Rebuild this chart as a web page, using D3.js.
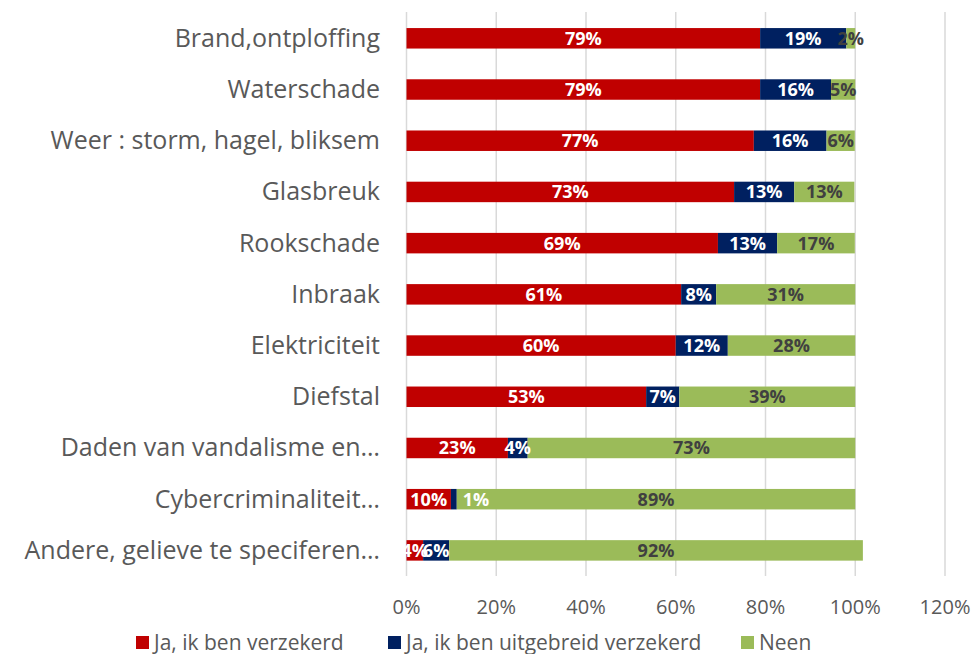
<!DOCTYPE html>
<html>
<head>
<meta charset="utf-8">
<script src="https://cdn.jsdelivr.net/npm/d3@7"></script>
<style>
  body { margin: 0; background: #fff; }
  svg { display: block; font-family: "Open Sans", Carlito, Calibri, sans-serif; }
</style>
</head>
<body>
<svg id="chart"></svg>
<script>
// Values (percent), one array per series.
const categories = [
  "Brand,ontploffing",
  "Waterschade",
  "Weer : storm, hagel, bliksem",
  "Glasbreuk",
  "Rookschade",
  "Inbraak",
  "Elektriciteit",
  "Diefstal",
  "Daden van vandalisme en…",
  "Cybercriminaliteit…",
  "Andere, gelieve te speciferen…"
];
const verzekerd   = [78.8, 78.8, 77.4, 73.0, 69.4, 61.2, 60.0, 53.4, 22.6, 9.9, 3.7];
const uitgebreid  = [19.2, 15.8, 16.2, 13.4, 13.2, 7.8, 11.6, 7.4, 4.4, 1.3, 5.8];
const neen        = [2.0, 5.4, 6.3, 13.4, 17.3, 31.0, 28.4, 39.2, 73.0, 88.8, 92.2];
const seriesNames = ["Ja, ik ben verzekerd", "Ja, ik ben uitgebreid verzekerd", "Neen"];
const seriesColors = ["#C00000", "#002060", "#9BBB59"];
const tickValues = [0, 20, 40, 60, 80, 100, 120];

const W = 974, H = 654;
const svg = d3.select('#chart').attr('width', W).attr('height', H);

const x = d3.scaleLinear().domain([0, 120]).range([406.5, 945]);
const y = d3.scaleBand().domain(categories).range([12.7, 576])
  .paddingInner(0.6).paddingOuter(0.3);

// gridlines
svg.append('g')
  .selectAll('line')
  .data(tickValues)
  .join('line')
  .attr('x1', d => x(d)).attr('x2', d => x(d))
  .attr('y1', 12).attr('y2', 576)
  .attr('stroke', '#d9d9d9')
  .attr('stroke-width', 1.5);

// tick labels
svg.append('g')
  .selectAll('text')
  .data(tickValues)
  .join('text')
  .attr('x', d => x(d))
  .attr('y', 614)
  .attr('text-anchor', 'middle')
  .attr('font-size', 20)
  .attr('fill', '#595959')
  .text(d => d + '%');

// stack the three series
const rows = categories.map((c, i) => ({cat: c, v: [verzekerd[i], uitgebreid[i], neen[i]]}));
const stack = d3.stack().keys([0, 1, 2]).value((d, k) => d.v[k]);
const layers = stack(rows);

const g = svg.append('g');
layers.forEach((layer, k) => {
  g.append('g')
    .selectAll('rect')
    .data(layer)
    .join('rect')
    .attr('x', d => x(d[0]))
    .attr('y', d => y(d.data.cat))
    .attr('width', d => x(d[1]) - x(d[0]))
    .attr('height', y.bandwidth())
    .attr('fill', seriesColors[k]);
});

// data labels (a segment too thin for its label gets it just to the right)
layers.forEach((layer, k) => {
  g.append('g')
    .selectAll('text')
    .data(layer)
    .join('text')
    .each(function(d) {
      const w = x(d[1]) - x(d[0]);
      const narrow = w < 8;
      d3.select(this)
        .attr('x', narrow ? x(d[1]) + 6 : (x(d[0]) + x(d[1])) / 2)
        .attr('text-anchor', narrow ? 'start' : 'middle');
    })
    .attr('y', d => y(d.data.cat) + y.bandwidth() / 2 + 6.5)
    .attr('font-size', 18)
    .attr('font-weight', 'bold')
    .attr('fill', k === 2 ? '#404040' : '#ffffff')
    .text(d => Math.round(d[1] - d[0]) + '%');
});

// category labels
svg.append('g')
  .selectAll('text')
  .data(categories)
  .join('text')
  .attr('x', 380)
  .attr('y', d => y(d) + y.bandwidth() / 2 + 8.5)
  .attr('text-anchor', 'end')
  .attr('font-size', 25)
  .attr('fill', '#595959')
  .text(d => d);

// legend
const legendX = [136, 388, 741];
const legend = svg.append('g')
  .selectAll('g')
  .data(seriesNames)
  .join('g')
  .attr('transform', (d, i) => `translate(${legendX[i]},636)`);
legend.append('rect')
  .attr('width', 13).attr('height', 13)
  .attr('fill', (d, i) => seriesColors[i]);
legend.append('text')
  .attr('x', 18).attr('y', 13.5)
  .attr('font-size', 21)
  .attr('fill', '#595959')
  .text(d => d);
</script>
</body>
</html>
